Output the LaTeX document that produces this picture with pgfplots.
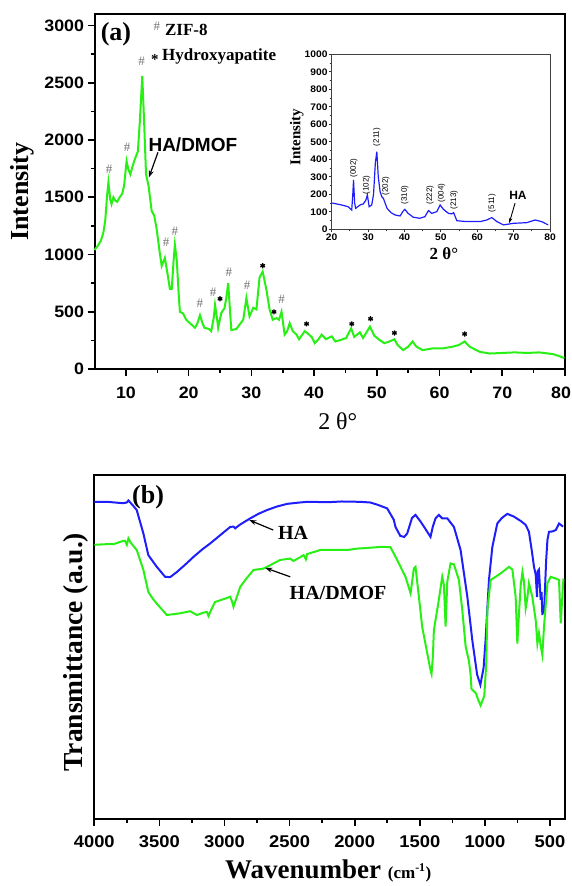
\documentclass[border=0pt]{standalone}
\usepackage{fontspec}
\setmainfont{Liberation Serif}
\newfontfamily\arial{Liberation Sans}
\newfontfamily\arialw{Liberation Sans}[FakeStretch=1.08]
\usepackage{pgfplots}
\pgfplotsset{compat=1.18}
\usetikzlibrary{arrows.meta}
\definecolor{lgreen}{RGB}{40,240,20}
\definecolor{lblue}{RGB}{30,30,250}
\newcommand{\fs}[1]{\fontsize{#1}{#1}\selectfont}
\begin{document}
\begin{tikzpicture}
\path[use as bounding box] (0,0) rectangle (572pt,886pt);
% ---------------- panel (a) ----------------
\begin{axis}[
  at={(94.6pt,517pt)}, anchor=south west,
  scale only axis, width=470.4pt, height=355pt,
  xmin=5, xmax=80, ymin=0, ymax=3100,
  xtick={10,20,...,80}, ytick={0,500,...,3000},
  xticklabels={10,20,30,40,50,60,70,\hspace*{-8pt}80},
  minor x tick num=1, minor y tick num=1,
  xtick pos=bottom, ytick pos=left, tick align=outside,
  major tick length=7pt, minor tick length=4pt,
  every tick/.style={black, line width=1.6pt},
  axis line style={line width=2pt},
  ticklabel style={font=\arialw\bfseries\fs{16.5}},
  xticklabel style={yshift=-7pt},
  /pgf/number format/assume math mode=true,
  /pgf/number format/1000 sep={},
  scaled ticks=false,
  xlabel={2 θ°}, xlabel style={font=\fs{24}, at={(axis description cs:0.517,-0.148)}, anchor=center},
  ylabel={\bfseries Intensity}, ylabel style={font=\fs{26}, at={(axis description cs:-0.153,0.5)}, anchor=center},
  clip=false,
]
\addplot[lgreen, line width=2pt] coordinates {
(5.0,1040)(5.5,1075)(6.0,1120)(6.4,1190)(6.7,1300)(7.0,1520)(7.2,1630)(7.5,1480)(7.7,1440)(8.0,1500)(8.3,1470)(8.6,1460)(9.0,1500)(9.4,1530)(9.7,1600)(10.1,1815)(10.4,1740)(10.7,1700)(11.0,1760)(11.4,1830)(11.9,1900)(12.2,2150)(12.6,2560)(12.9,2150)(13.2,1700)(13.6,1600)(14.1,1380)(14.5,1340)(14.9,1220)(15.4,1010)(15.7,900)(16.2,970)(16.6,840)(17.0,700)(17.3,700)(17.6,950)(17.8,1085)(18.1,950)(18.4,660)(18.6,500)(19.1,485)(19.6,430)(20.5,385)(21.0,360)(21.4,400)(21.8,470)(22.2,400)(22.5,360)(23.2,350)(23.6,330)(24.0,450)(24.2,560)(24.5,450)(24.7,360)(25.2,490)(25.7,530)(26.0,620)(26.3,750)(26.6,500)(26.8,340)(27.6,350)(28.7,430)(29.2,620)(29.7,460)(30.3,535)(30.8,520)(31.3,800)(31.8,850)(32.4,690)(32.9,520)(33.4,430)(34.0,445)(34.4,430)(34.8,500)(35.3,300)(35.7,330)(36.1,400)(36.6,330)(37.2,300)(37.6,260)(38.5,330)(39.0,310)(39.6,280)(40.1,225)(40.7,260)(41.2,300)(41.9,260)(42.8,285)(43.4,240)(44.3,255)(45.1,270)(45.9,355)(46.4,280)(47.3,320)(47.8,270)(48.9,370)(49.6,290)(50.4,255)(51.2,225)(52.0,240)(52.8,260)(53.3,210)(54.2,165)(55.0,195)(55.7,240)(56.3,195)(57.3,165)(58.9,180)(60.5,180)(62.1,195)(63.1,210)(64.0,240)(64.8,195)(66.4,150)(68.0,135)(70.0,140)(72.0,145)(74.0,140)(75.9,145)(78.1,130)(79.2,110)(79.9,95)
};
% ZIF-8 peak markers
\addplot[draw=none, mark=none, nodes near coords={\#},
  every node near coord/.style={anchor=center, font=\fs{13}, text=black!55}] coordinates {
(7.3,1743)(10.2,1935)(12.5,2688)(16.4,1103)(17.8,1200)(21.8,578)(23.9,666)(26.4,841)(29.3,727)(34.8,613)
};
% Hydroxyapatite peak markers
\addplot[only marks, mark=asterisk, mark size=2.6pt, line width=1.3pt, black] coordinates {
(25.0,613)(31.8,902)(33.6,499)(38.8,394)(46.0,394)(49.0,438)(52.8,315)(64.0,306)
};
\node[font=\bfseries\fs{26}] at (axis cs:8.41,2925) {(a)};
\node[font=\fs{13}, text=black!55] at (axis cs:14.94,2995) {\#};
\node[font=\bfseries\fs{17}, anchor=west, inner sep=0pt] at (axis cs:16.21,2963) {ZIF-8};
\node[font=\bfseries\fs{15}, inner sep=0pt] at (axis cs:14.6,2700) {*};
\node[font=\bfseries\fs{17}, anchor=west, inner sep=0pt] at (axis cs:15.73,2730) {Hydroxyapatite};
\node[font=\arial\bfseries\fs{19}] at (axis cs:20.67,1962) {HA/DMOF};
\draw[-{Stealth[length=7pt,width=5pt]}, line width=1.2pt] (axis cs:15.1,1892) -- (axis cs:13.66,1673);
\end{axis}
% ---------------- inset ----------------
\begin{axis}[
  at={(331.7pt,656.7pt)}, anchor=south west,
  scale only axis, width=218.3pt, height=175pt,
  xmin=20, xmax=80, ymin=0, ymax=1000,
  xtick={20,30,...,80}, ytick={0,100,...,1000},
  minor x tick num=1, minor y tick num=1,
  xtick pos=bottom, ytick pos=left, tick align=outside,
  major tick length=3pt, minor tick length=2pt,
  every tick/.style={black!80, line width=0.8pt},
  axis line style={line width=1pt, black!75},
  ticklabel style={font=\arialw\bfseries\fs{9.5}, inner sep=1pt},
  /pgf/number format/assume math mode=true,
  /pgf/number format/1000 sep={},
  scaled ticks=false,
  xlabel={2 θ°}, xlabel style={font=\bfseries\fs{17}, at={(axis description cs:0.514,-0.14)}, anchor=center},
  ylabel={\bfseries Intensity}, ylabel style={font=\fs{15}, at={(axis description cs:-0.16,0.527)}, anchor=center},
  clip=false,
]
\addplot[lblue, line width=1.2pt] coordinates {
(20.0,150)(20.4,149)(22.7,139)(24.5,129)(25.5,110)(25.8,200)(26.0,282)(26.3,150)(26.6,120)(27.8,139)(28.7,145)(29.4,167)(29.8,196)(30.3,129)(31.0,139)(31.5,200)(32.0,380)(32.4,444)(32.8,300)(33.3,215)(33.8,185)(34.2,177)(35.2,120)(36.3,95)(37.4,82)(38.8,76)(39.5,100)(40.1,114)(41.0,91)(42.4,69)(44.2,63)(45.6,72)(46.6,107)(47.5,91)(48.9,101)(49.8,139)(50.7,114)(52.1,91)(53.0,88)(53.5,95)(54.4,49)(57.1,44)(60.8,44)(62.6,53)(64.0,67)(65.4,44)(67.2,25)(69.9,34)(73.6,38)(75.9,53)(77.7,44)(79.5,25)
};
\node[rotate=90, font=\arial\fs{8}] at (axis cs:26.1,350) {(002)};
\node[rotate=90, font=\arial\fs{8}] at (axis cs:29.6,253) {(102)};
\node[rotate=90, font=\arial\fs{8}] at (axis cs:32.4,527) {(211)};
\node[rotate=90, font=\arial\fs{8}] at (axis cs:34.9,247) {(202)};
\node[rotate=90, font=\arial\fs{8}] at (axis cs:40.1,196) {(310)};
\node[rotate=90, font=\arial\fs{8}] at (axis cs:47.0,196) {(222)};
\node[rotate=90, font=\arial\fs{8}] at (axis cs:50.2,207) {(004)};
\node[rotate=90, font=\arial\fs{8}] at (axis cs:53.6,167) {(213)};
\node[rotate=90, font=\arial\fs{8}] at (axis cs:64.1,150) {(511)};
\node[font=\arial\bfseries\fs{12}] at (axis cs:71.2,196) {HA};
\draw[-{Stealth[length=5pt,width=3.5pt]}, line width=0.9pt] (axis cs:70.4,150) -- (axis cs:68.8,36);
\end{axis}
% ---------------- panel (b) ----------------
\begin{axis}[
  at={(94.3pt,67pt)}, anchor=south west,
  scale only axis, width=470.7pt, height=344pt,
  x dir=reverse, xmin=385, xmax=4000, ymin=0, ymax=100,
  xtick={500,1000,...,4000}, ytick=\empty,
  minor x tick num=1,
  xtick pos=bottom, tick align=outside,
  major tick length=7pt, minor tick length=4pt,
  every tick/.style={black, line width=1.6pt},
  axis line style={line width=2pt},
  ticklabel style={font=\arialw\bfseries\fs{17}},
  xticklabel style={yshift=-6pt},
  /pgf/number format/assume math mode=true,
  /pgf/number format/1000 sep={},
  scaled ticks=false,
  xlabel={\bfseries Wavenumber {\fs{17}(cm\textsuperscript{-1})}}, xlabel style={font=\fs{27}, at={(axis description cs:0.497,-0.15)}, anchor=center},
  ylabel={\bfseries Transmittance (a.u.)}, ylabel style={font=\fs{27.5}, at={(axis description cs:-0.04,0.485)}, anchor=center},
  clip=false,
]
\addplot[lblue, line width=2pt] coordinates {
(4000,92.2)(3900,92.2)(3780,91.8)(3751,92.0)(3738,92.6)(3700,91.0)(3674,89.8)(3623,83.0)(3585,76.7)(3520,73.3)(3456,70.4)(3418,70.3)(3366,71.8)(3300,74.0)(3238,76.2)(3170,78.4)(3110,80.1)(3030,82.6)(2956,84.9)(2930,85.0)(2918,84.5)(2880,85.6)(2802,87.4)(2740,88.7)(2674,89.8)(2600,90.8)(2520,91.6)(2450,91.9)(2366,92.2)(2200,92.1)(2100,92.3)(1956,92.2)(1880,92.0)(1828,91.4)(1751,90.3)(1700,87.0)(1687,84.9)(1650,82.3)(1620,82.0)(1597,83.0)(1560,87.5)(1533,88.4)(1495,86.5)(1460,84.5)(1443,83.5)(1418,82.0)(1400,85.0)(1379,87.4)(1354,88.4)(1328,87.4)(1289,87.4)(1238,84.9)(1187,78.2)(1135,64.6)(1097,52.0)(1060,42.0)(1035,39.0)(1010,44.0)(995,52.0)(969,69.5)(943,79.1)(905,85.9)(870,87.5)(828,88.7)(777,87.9)(720,86.5)(687,85.5)(662,83.5)(640,78.0)(623,73.3)(610,71.0)(600,64.5)(595,72.0)(585,72.5)(572,63.7)(565,66.0)(559,59.3)(550,62.0)(546,59.8)(530,75.0)(520,81.1)(508,83.5)(480,83.6)(456,84.0)(431,85.9)(410,85.3)(400,85.0)
};
\addplot[lgreen, line width=2pt] coordinates {
(4000,79.7)(3900,79.9)(3851,79.9)(3790,80.7)(3765,80.9)(3750,79.7)(3738,81.6)(3720,80.3)(3674,78.2)(3623,72.4)(3585,66.0)(3550,64.0)(3520,62.6)(3443,59.3)(3400,59.5)(3341,59.8)(3264,60.4)(3212,59.3)(3160,60.0)(3135,60.2)(3123,59.0)(3100,61.0)(3072,63.1)(3000,64.0)(2956,64.6)(2940,63.0)(2931,61.7)(2879,67.5)(2830,70.0)(2777,72.4)(2700,72.8)(2674,73.3)(2572,75.3)(2495,75.7)(2470,75.0)(2392,76.7)(2375,75.5)(2366,77.0)(2264,78.2)(2238,78.2)(2058,78.2)(1982,78.6)(1900,78.8)(1802,79.1)(1777,79.1)(1725,79.0)(1674,75.3)(1610,70.4)(1571,65.6)(1546,72.8)(1533,73.3)(1507,64.6)(1482,55.9)(1443,48.2)(1418,43.3)(1410,42.2)(1400,47.0)(1392,54.9)(1354,63.7)(1328,70.4)(1315,68.0)(1302,55.9)(1289,69.0)(1264,74.3)(1238,74.0)(1200,69.5)(1174,60.8)(1148,50.1)(1123,46.0)(1110,42.0)(1103,37.8)(1070,36.6)(1050,34.5)(1033,33.0)(1005,35.8)(990,45.0)(981,60.8)(956,69.5)(918,70.4)(879,71.4)(815,73.3)(789,72.5)(764,64.6)(751,51.0)(738,60.0)(725,68.0)(712,71.8)(700,69.0)(687,61.3)(675,64.0)(662,68.5)(636,64.6)(610,57.8)(597,51.0)(585,54.0)(570,50.0)(559,47.7)(546,56.0)(520,68.5)(495,70.4)(456,69.9)(431,69.5)(418,56.9)(405,65.0)(397,69.9)
};
\node[font=\bfseries\fs{26}] at (axis cs:3587,93.6) {(b)};
\node[font=\bfseries\fs{20}] at (axis cs:2473,83.1) {HA};
\draw[-{Stealth[length=7pt,width=5pt]}, line width=1.2pt] (axis cs:2626,84.0) -- (axis cs:2810,86.9);
\node[font=\bfseries\fs{20}] at (axis cs:2128,65.7) {HA/DMOF};
\draw[-{Stealth[length=7pt,width=5pt]}, line width=1.2pt] (axis cs:2495,70.4) -- (axis cs:2687,73.0);
\end{axis}
\end{tikzpicture}
\end{document}
